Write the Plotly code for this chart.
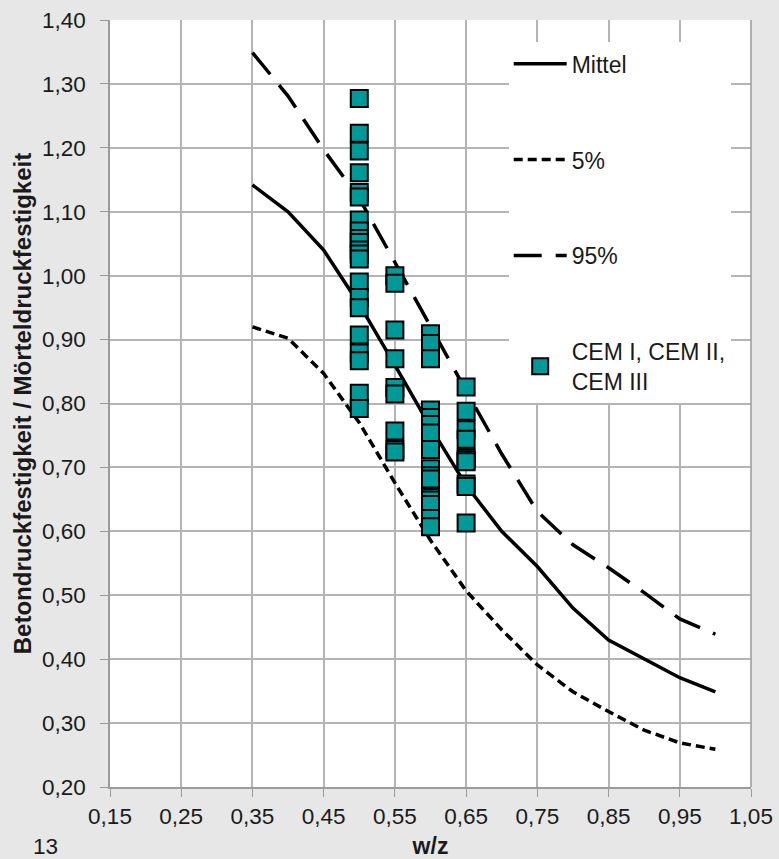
import plotly.graph_objects as go

# ---- data ----
wz_curve = [0.35, 0.40, 0.45, 0.50, 0.55, 0.60, 0.65, 0.70, 0.75, 0.80, 0.85, 0.90, 0.95, 1.00]
mittel = [1.142, 1.100, 1.040, 0.955, 0.860, 0.763, 0.672, 0.600, 0.545, 0.480, 0.430, 0.400, 0.371, 0.349]
p5 = [0.920, 0.902, 0.847, 0.770, 0.676, 0.586, 0.507, 0.446, 0.391, 0.349, 0.318, 0.289, 0.269, 0.259]
p95 = [1.349, 1.281, 1.197, 1.121, 1.021, 0.920, 0.820, 0.721, 0.631, 0.579, 0.543, 0.504, 0.463, 0.439]

cem_050 = [1.277, 1.223, 1.195, 1.161, 1.130, 1.123, 1.087, 1.070, 1.058, 1.052, 1.040, 1.034, 1.026,
           0.990, 0.966, 0.950, 0.907, 0.879, 0.867, 0.816, 0.792]
cem_055 = [1.000, 0.988, 0.915, 0.870, 0.825, 0.815, 0.757, 0.728, 0.724]
cem_060 = [0.909, 0.894, 0.870, 0.790, 0.778, 0.767, 0.754, 0.728, 0.698, 0.687, 0.682, 0.653,
           0.649, 0.642, 0.620, 0.607]
cem_065 = [0.826, 0.788, 0.759, 0.744, 0.715, 0.712, 0.709, 0.674, 0.670, 0.613]

x_ticks = [0.15, 0.25, 0.35, 0.45, 0.55, 0.65, 0.75, 0.85, 0.95, 1.05]
x_labels = ["0,15", "0,25", "0,35", "0,45", "0,55", "0,65", "0,75", "0,85", "0,95", "1,05"]
y_ticks = [0.20, 0.30, 0.40, 0.50, 0.60, 0.70, 0.80, 0.90, 1.00, 1.10, 1.20, 1.30, 1.40]
y_labels = ["0,20", "0,30", "0,40", "0,50", "0,60", "0,70", "0,80", "0,90", "1,00", "1,10", "1,20", "1,30", "1,40"]

# ---- build scatter arrays ----
cem_x = [0.50] * len(cem_050) + [0.55] * len(cem_055) + [0.60] * len(cem_060) + [0.65] * len(cem_065)
cem_y = cem_050 + cem_055 + cem_060 + cem_065

FONT = "Liberation Sans, Arial, sans-serif"
TXT = "#1a1a1a"
BG = "#e7e7e7"

fig = go.Figure()
fig.add_trace(go.Scatter(x=wz_curve, y=mittel, mode="lines", name="Mittel", legendgroup="a",
                         line=dict(color="black", width=3.5)))
fig.add_trace(go.Scatter(x=wz_curve, y=p5, mode="lines", name="5%", legendgroup="b",
                         line=dict(color="black", width=3.5, dash="9px,5px")))
fig.add_trace(go.Scatter(x=wz_curve, y=p95, mode="lines", name="95%", legendgroup="c",
                         line=dict(color="black", width=3.5, dash="28px,14px")))
fig.add_trace(go.Scatter(x=cem_x, y=cem_y, mode="markers", name="CEM I, CEM II,<br>CEM III", legendgroup="d",
                         marker=dict(symbol="square", size=17, color="#009999",
                                     line=dict(color="black", width=2))))

fig.update_layout(
    width=779, height=859,
    margin=dict(l=110, r=28, t=20, b=72),
    paper_bgcolor=BG,
    plot_bgcolor="white",
    font=dict(family=FONT, size=22.5, color=TXT),
    showlegend=True,
    legend=dict(x=0.622, y=0.971, xanchor="left", yanchor="top",
                bgcolor="white", borderwidth=0, tracegroupgap=63,
                font=dict(size=23, color=TXT), itemwidth=53, entrywidth=180),
    xaxis=dict(range=[0.15, 1.05], tickmode="array", tickvals=x_ticks, ticktext=x_labels,
               showgrid=True, gridcolor="#b4b4b4", gridwidth=1.5,
               showline=True, linecolor="#9a9a9a", linewidth=1.5, mirror=False,
               ticks="outside", ticklen=8, tickcolor="#9a9a9a", automargin=False,
               tickfont=dict(size=22.5), ticklabelstandoff=0,
               zeroline=False, title=dict(text="<b>w/z</b>", standoff=21, font=dict(size=23))),
    yaxis=dict(range=[0.2, 1.4], tickmode="array", tickvals=y_ticks, ticktext=y_labels,
               showgrid=True, gridcolor="#b4b4b4", gridwidth=1.5,
               showline=True, linecolor="#9a9a9a", linewidth=1.5,
               ticks="outside", ticklen=8, tickcolor="#9a9a9a", automargin=False,
               tickfont=dict(size=22.5), ticklabelstandoff=10,
               zeroline=False,
               title=dict(text="<b>Betondruckfestigkeit / Mörteldruckfestigkeit</b>", standoff=4,
                          font=dict(size=24))),
    shapes=[dict(type="line", xref="paper", yref="paper", x0=1, x1=1, y0=0, y1=1,
                 line=dict(color="#9a9a9a", width=1.5))],
    annotations=[dict(text="13", xref="paper", yref="paper", x=-0.124, y=-0.078,
                      xanchor="left", yanchor="middle", showarrow=False,
                      font=dict(size=22.5, color=TXT))],
)

fig.write_html("out.html", config={"displayModeBar": False},
               post_script="document.body.style.margin='0';document.body.style.background='%s';"
                           "document.documentElement.style.overflow='hidden';" % BG)
